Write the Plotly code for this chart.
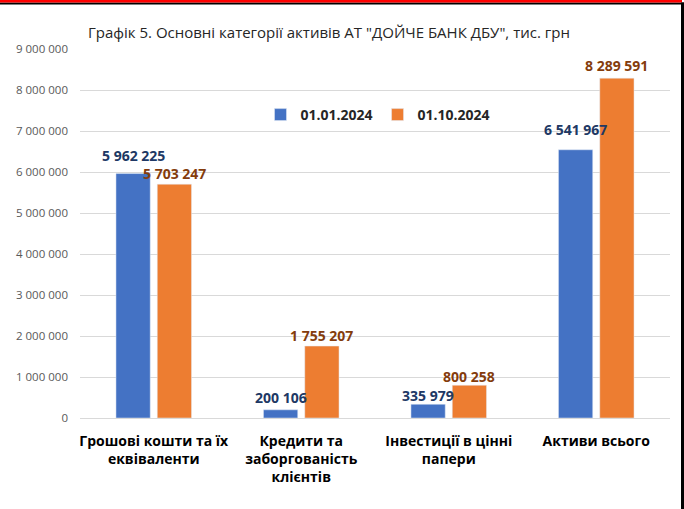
import plotly.graph_objects as go

categories = ["Грошові кошти та їх<br>еквіваленти",
              "Кредити та<br>заборгованість<br>клієнтів",
              "Інвестиції в цінні<br>папери",
              "Активи всього"]
series_names = ["01.01.2024", "01.10.2024"]
values_jan = [5962225, 200106, 335979, 6541967]
values_oct = [5703247, 1755207, 800258, 8289591]
colors = ["#4472C4", "#ED7D31"]
label_colors = ["#203864", "#843C0C"]
# extra upward lift (px) of individual data labels, as placed in the original
label_lift_jan = [7, 1, -2, 9]
label_lift_oct = [0, 0, -2, 2]

W, H = 684, 509
L, R, T, B = 80, 14, 49, 91
pw, ph = W - L - R, H - T - B
BARGAP, GROUPGAP = 0.44, 0.17

def px(x):
    return (x - L) / pw

def py(y):
    return (H - B - y) / ph

font_family = "Open Sans, Noto Sans, sans-serif"

fig = go.Figure()
for name, vals, c in zip(series_names, [values_jan, values_oct], colors):
    fig.add_trace(go.Bar(x=categories, y=vals, name=name, marker_color=c,
                         hoverinfo="skip"))

# data labels drawn above all bars
cat_w = pw / len(categories)
slot = (1 - BARGAP) * cat_w / 2
for i, (vals, lc, lifts) in enumerate(zip([values_jan, values_oct], label_colors,
                                          [label_lift_jan, label_lift_oct])):
    shift = (i - 0.5) * slot
    for cat, v, lift in zip(categories, vals, lifts):
        fig.add_annotation(x=cat, y=v, xref="x", yref="y", text=f"{v:,}".replace(",", " "),
                           showarrow=False, xshift=shift, yshift=11 + lift,
                           yanchor="middle", xanchor="center",
                           font=dict(color=lc, size=14, family=font_family, weight="bold"))

fig.update_layout(
    width=W, height=H,
    margin=dict(l=L, r=R, t=T, b=B, autoexpand=False),
    paper_bgcolor="white", plot_bgcolor="white",
    separators=". ",
    barmode="group", bargap=BARGAP, bargroupgap=GROUPGAP,
    font=dict(family=font_family),
    title=dict(text='Графік 5. Основні категорії активів АТ "ДОЙЧЕ БАНК ДБУ", тис. грн',
               xref="container", x=88 / W, xanchor="left",
               yref="container", y=1 - 33 / H, yanchor="middle",
               font=dict(size=15, color="#262626", family=font_family)),
    legend=dict(orientation="h", x=px(378), xanchor="center", y=py(115), yanchor="middle",
                font=dict(size=14, color="#262626", family=font_family, weight="bold"),
                bgcolor="rgba(0,0,0,0)", itemwidth=30, tracegroupgap=0),
    showlegend=True,
)
fig.update_yaxes(range=[0, 9000000], dtick=1000000, tickformat=",d",
                 gridcolor="#D9D9D9", gridwidth=1, zeroline=False,
                 tickfont=dict(size=11.5, color="#595959", family=font_family),
                 ticks="", ticklen=0, showline=False, ticklabelstandoff=11)
fig.update_xaxes(showline=True, linecolor="#D9D9D9", linewidth=1,
                 tickfont=dict(size=14, color="#000000", family=font_family, weight="bold"),
                 ticks="", ticklabelstandoff=10)

# frame lines around the picture (drawn as lines so thin strokes stay crisp)
fig.add_shape(type="line", xref="paper", yref="paper",
              x0=px(0), x1=px(684), y0=py(3.5), y1=py(3.5),
              line=dict(color="#000000", width=2), layer="above")
fig.add_shape(type="line", xref="paper", yref="paper",
              x0=px(0), x1=px(682), y0=py(1.25), y1=py(1.25),
              line=dict(color="#FF0000", width=2.5), layer="above")
fig.add_shape(type="line", xref="paper", yref="paper",
              x0=px(682.5), x1=px(682.5), y0=py(510), y1=py(2.5),
              line=dict(color="#000000", width=3), layer="above")

fig.write_html("out.html", config={"displayModeBar": False},
               post_script="document.body.style.margin='0';document.body.style.overflow='hidden';")
